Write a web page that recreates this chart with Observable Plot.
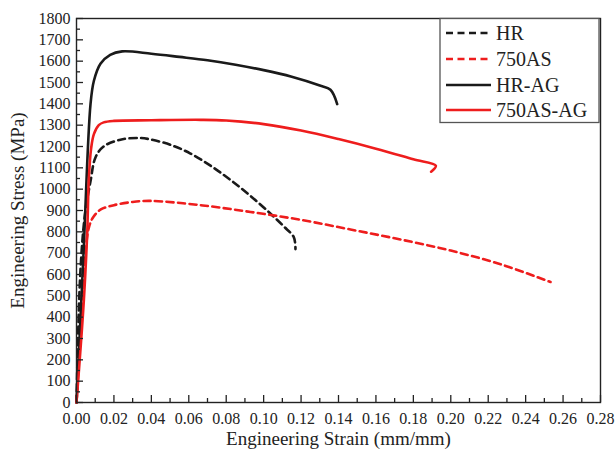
<!DOCTYPE html>
<html><head><meta charset="utf-8">
<script src="https://cdn.jsdelivr.net/npm/d3@7"></script>
<script src="https://cdn.jsdelivr.net/npm/@observablehq/plot@0.6"></script>
<style>body{margin:0;background:#fff;} svg, svg text{font-family:"Liberation Serif","Times New Roman",serif !important;}</style>
</head><body><div id="chart"></div>
<script>
const seriesNames = ["HR", "750AS", "HR-AG", "750AS-AG"];
const seriesColors = ["#1a1a1a", "#ee1d1d", "#1a1a1a", "#ee1d1d"];
const seriesDash = ["7,4.5", "7,4.5", null, null];

const hrStrain = [0, 0.002, 0.0045, 0.0075, 0.0102, 0.0145, 0.0235, 0.034, 0.0396, 0.0502, 0.0609, 0.0716, 0.0823, 0.093, 0.1037, 0.1108, 0.1161, 0.117];
const hrStress = [0, 600, 880, 1038, 1150, 1200, 1232, 1240, 1233, 1208, 1167, 1110, 1043, 968, 885, 825, 775, 719];

const as750Strain = [0, 0.0025, 0.0048, 0.0066, 0.009, 0.013, 0.02, 0.03, 0.0396, 0.0663, 0.093, 0.12, 0.1464, 0.1732, 0.2, 0.2266, 0.2533];
const as750Stress = [0, 380, 700, 820, 870, 905, 925, 940, 945, 925, 893, 856, 811, 764, 712, 648, 565];

const hragStrain = [0, 0.0037, 0.0075, 0.0093, 0.0128, 0.018, 0.0244, 0.04, 0.055, 0.07, 0.085, 0.1, 0.115, 0.13, 0.1357, 0.1393];
const hragStress = [0, 690, 1400, 1508, 1588, 1630, 1646, 1635, 1620, 1604, 1583, 1558, 1527, 1486, 1466, 1399];

const asagStrain = [0, 0.0039, 0.0057, 0.0066, 0.0078, 0.0093, 0.0119, 0.0145, 0.02, 0.04, 0.0663, 0.08, 0.1, 0.12, 0.14, 0.16, 0.18, 0.192, 0.1895];
const asagStress = [0, 475, 790, 1050, 1190, 1258, 1300, 1313, 1320, 1323, 1325, 1322, 1305, 1275, 1235, 1190, 1140, 1110, 1082];

const xTicks = d3.range(0, 0.2801, 0.02);
const xMinor = d3.range(0.01, 0.28, 0.02);
const yTicks = d3.range(0, 1801, 100);
const yMinor = d3.range(50, 1800, 100);

const strains = [hrStrain, as750Strain, hragStrain, asagStrain];
const stresses = [hrStress, as750Stress, hragStress, asagStress];
const rows = [];
seriesNames.forEach((name, i) => {
  strains[i].forEach((s, j) => rows.push({series: name, strain: s, stress: stresses[i][j]}));
});

const lineMarks = seriesNames.map((name, i) => Plot.line(rows.filter(d => d.series === name), {
  x: "strain", y: "stress", stroke: seriesColors[i], strokeWidth: 2.6,
  strokeDasharray: seriesDash[i], curve: "catmull-rom"
}));

const chart = Plot.plot({
  width: 615, height: 450,
  marginLeft: 76, marginRight: 15, marginTop: 18, marginBottom: 48,
  style: {fontFamily: "Liberation Serif, serif", fontSize: "16px", color: "#222", background: "#fff"},
  x: {domain: [0, 0.28], axis: null},
  y: {domain: [0, 1800], axis: null},
  marks: [
    ...lineMarks,
    Plot.axisX({ticks: xTicks, tickSize: -7, tickFormat: () => "", label: null, stroke: "#222", strokeWidth: 1.3}),
    Plot.axisX({ticks: xMinor, tickSize: -4, tickFormat: () => "", label: null, stroke: "#222", strokeWidth: 1.3}),
    Plot.axisX({ticks: xTicks, tickSize: 0, tickPadding: 10, tickFormat: d3.format(".2f"), fill: "#222",
      label: "Engineering Strain (mm/mm)", labelAnchor: "center", labelOffset: 42, labelArrow: "none", fontSize: 16}),
    Plot.axisY({ticks: yTicks, tickSize: -7, tickFormat: () => "", label: null, stroke: "#222", strokeWidth: 1.3}),
    Plot.axisY({ticks: yMinor, tickSize: -4, tickFormat: () => "", label: null, stroke: "#222", strokeWidth: 1.3}),
    Plot.axisY({ticks: yTicks, tickSize: 0, tickPadding: 6, tickFormat: d3.format("d"), fill: "#222",
      label: "Engineering Stress (MPa)", labelAnchor: "center", labelOffset: 66, labelArrow: "none", fontSize: 16}),
    Plot.frame({stroke: "#222", strokeWidth: 1.4})
  ]
});
document.getElementById("chart").appendChild(chart);

const svg = d3.select(chart);
svg.selectAll("g[aria-label='x-axis label'] text, g[aria-label='y-axis label'] text")
  .style("font-size", "19px");

// legend
const lg = svg.append("g").attr("text-anchor", "start");
lg.append("rect").attr("x", 440).attr("y", 18.5).attr("width", 159).attr("height", 104)
  .attr("fill", "#fff").attr("stroke", "#555").attr("stroke-width", 1.3);
const legendY = [33, 59, 85, 110];
seriesNames.forEach((name, i) => {
  lg.append("line").attr("x1", 446).attr("x2", 491).attr("y1", legendY[i]).attr("y2", legendY[i])
    .attr("stroke", seriesColors[i]).attr("stroke-width", 2.6)
    .attr("stroke-dasharray", seriesDash[i]);
  lg.append("text").attr("x", 496).attr("y", legendY[i]).attr("dy", "0.35em")
    .attr("text-anchor", "start").attr("font-size", 20).attr("fill", "#222").text(name);
});
svg.selectAll("text").style("font-family", "'Liberation Serif', serif");
</script></body></html>
